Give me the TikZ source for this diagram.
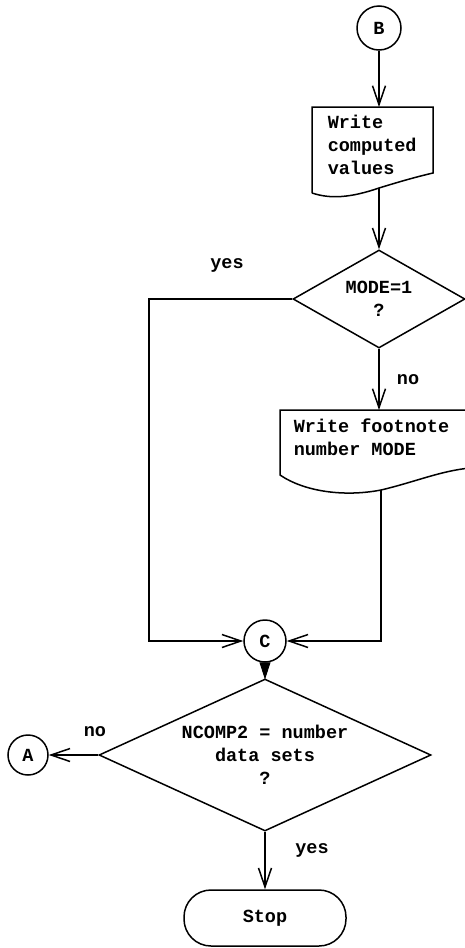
\documentclass[tikz,border=0pt]{standalone}
\usepackage{fontspec}
\newfontfamily\tw{Liberation Mono}
\usetikzlibrary{arrows.meta,shapes.geometric}
\begin{document}
\begin{tikzpicture}[x=1pt,y=-1pt,
 line width=1.5pt,
 every node/.style={font=\fontsize{18.5}{23}\selectfont\tw\bfseries},
 arr/.style={-{Straight Barb[length=19pt,width=13pt,line width=1.5pt]}},
 conn/.style={circle,draw,inner sep=0pt},
 dec/.style={diamond,draw,inner sep=0pt,align=center},
 lbl/.style={inner sep=0pt},
 doctext/.style={inner sep=0pt,anchor=west,align=left},
 term/.style={draw,rounded corners=27pt,minimum width=162pt,minimum height=56pt}
]
\useasboundingbox (0,0) rectangle (465,948);

% nodes
\node[conn,minimum size=44pt] (B) at (379,28) {B};
\node[doctext] (w1) at (327,145) {Write\\computed\\values};
\coordinate (w1t) at (379,107);
\coordinate (w1b) at (379,188);
\node[dec,aspect=1.755,minimum width=172pt,minimum height=98pt] (d1) at (379,299) {MODE=1\\?};
\node[lbl] (yes1) at (227,265) {yes};
\node[doctext] (f1) at (293,437) {Write footnote\\number MODE};
\coordinate (f1t) at (379,410);
\coordinate (f1b) at (381,490);
\node[lbl] (no1) at (408,380) {no};
\node[conn,minimum size=42pt] (C) at (265,641) {C};
\node[dec,aspect=2.18,minimum width=332pt,minimum height=152pt] (d2) at (265,755) {NCOMP2 = number\\data sets\\?};
\node[conn,minimum size=40pt] (A) at (28,755) {A};
\node[lbl] (no2) at (95,732) {no};
\node[term] (stop) at (265,918) {Stop};
\node[lbl] (yes2) at (312,850) {yes};
\coordinate (L1) at (149,299);
\coordinate (L2) at (149,641);
\coordinate (R1) at (381,641);

% document outlines
\draw (312,193) -- (312,107) -- (433,107) -- (433,173)
  .. controls (420,176) and (405,180) .. (w1b)
  .. controls (350,198) and (330,199) .. (312,193);
\draw (470,410) -- (280,410) -- (280,475)
  .. controls (305,492) and (345,497) .. (f1b)
  .. controls (415,482) and (440,471) .. (470,468);

% connectors
\draw[arr] (B) -- (w1t);
\draw[arr] (w1b) -- (d1.north);
\draw[arr] (d1.west) -- (L1) -- (L2) -- (C.west);
\draw[arr] (d1.south) -- (f1t);
\draw[arr] (f1b) -- (R1) -- (C.east);
\filldraw[line width=0.8pt,line join=miter] ([xshift=-5pt]C.south) -- (d2.north) -- ([xshift=5pt]C.south) -- cycle;
\draw[arr] (d2.west) -- (A);
\draw[arr] (d2.south) -- (stop);
\end{tikzpicture}
\end{document}
